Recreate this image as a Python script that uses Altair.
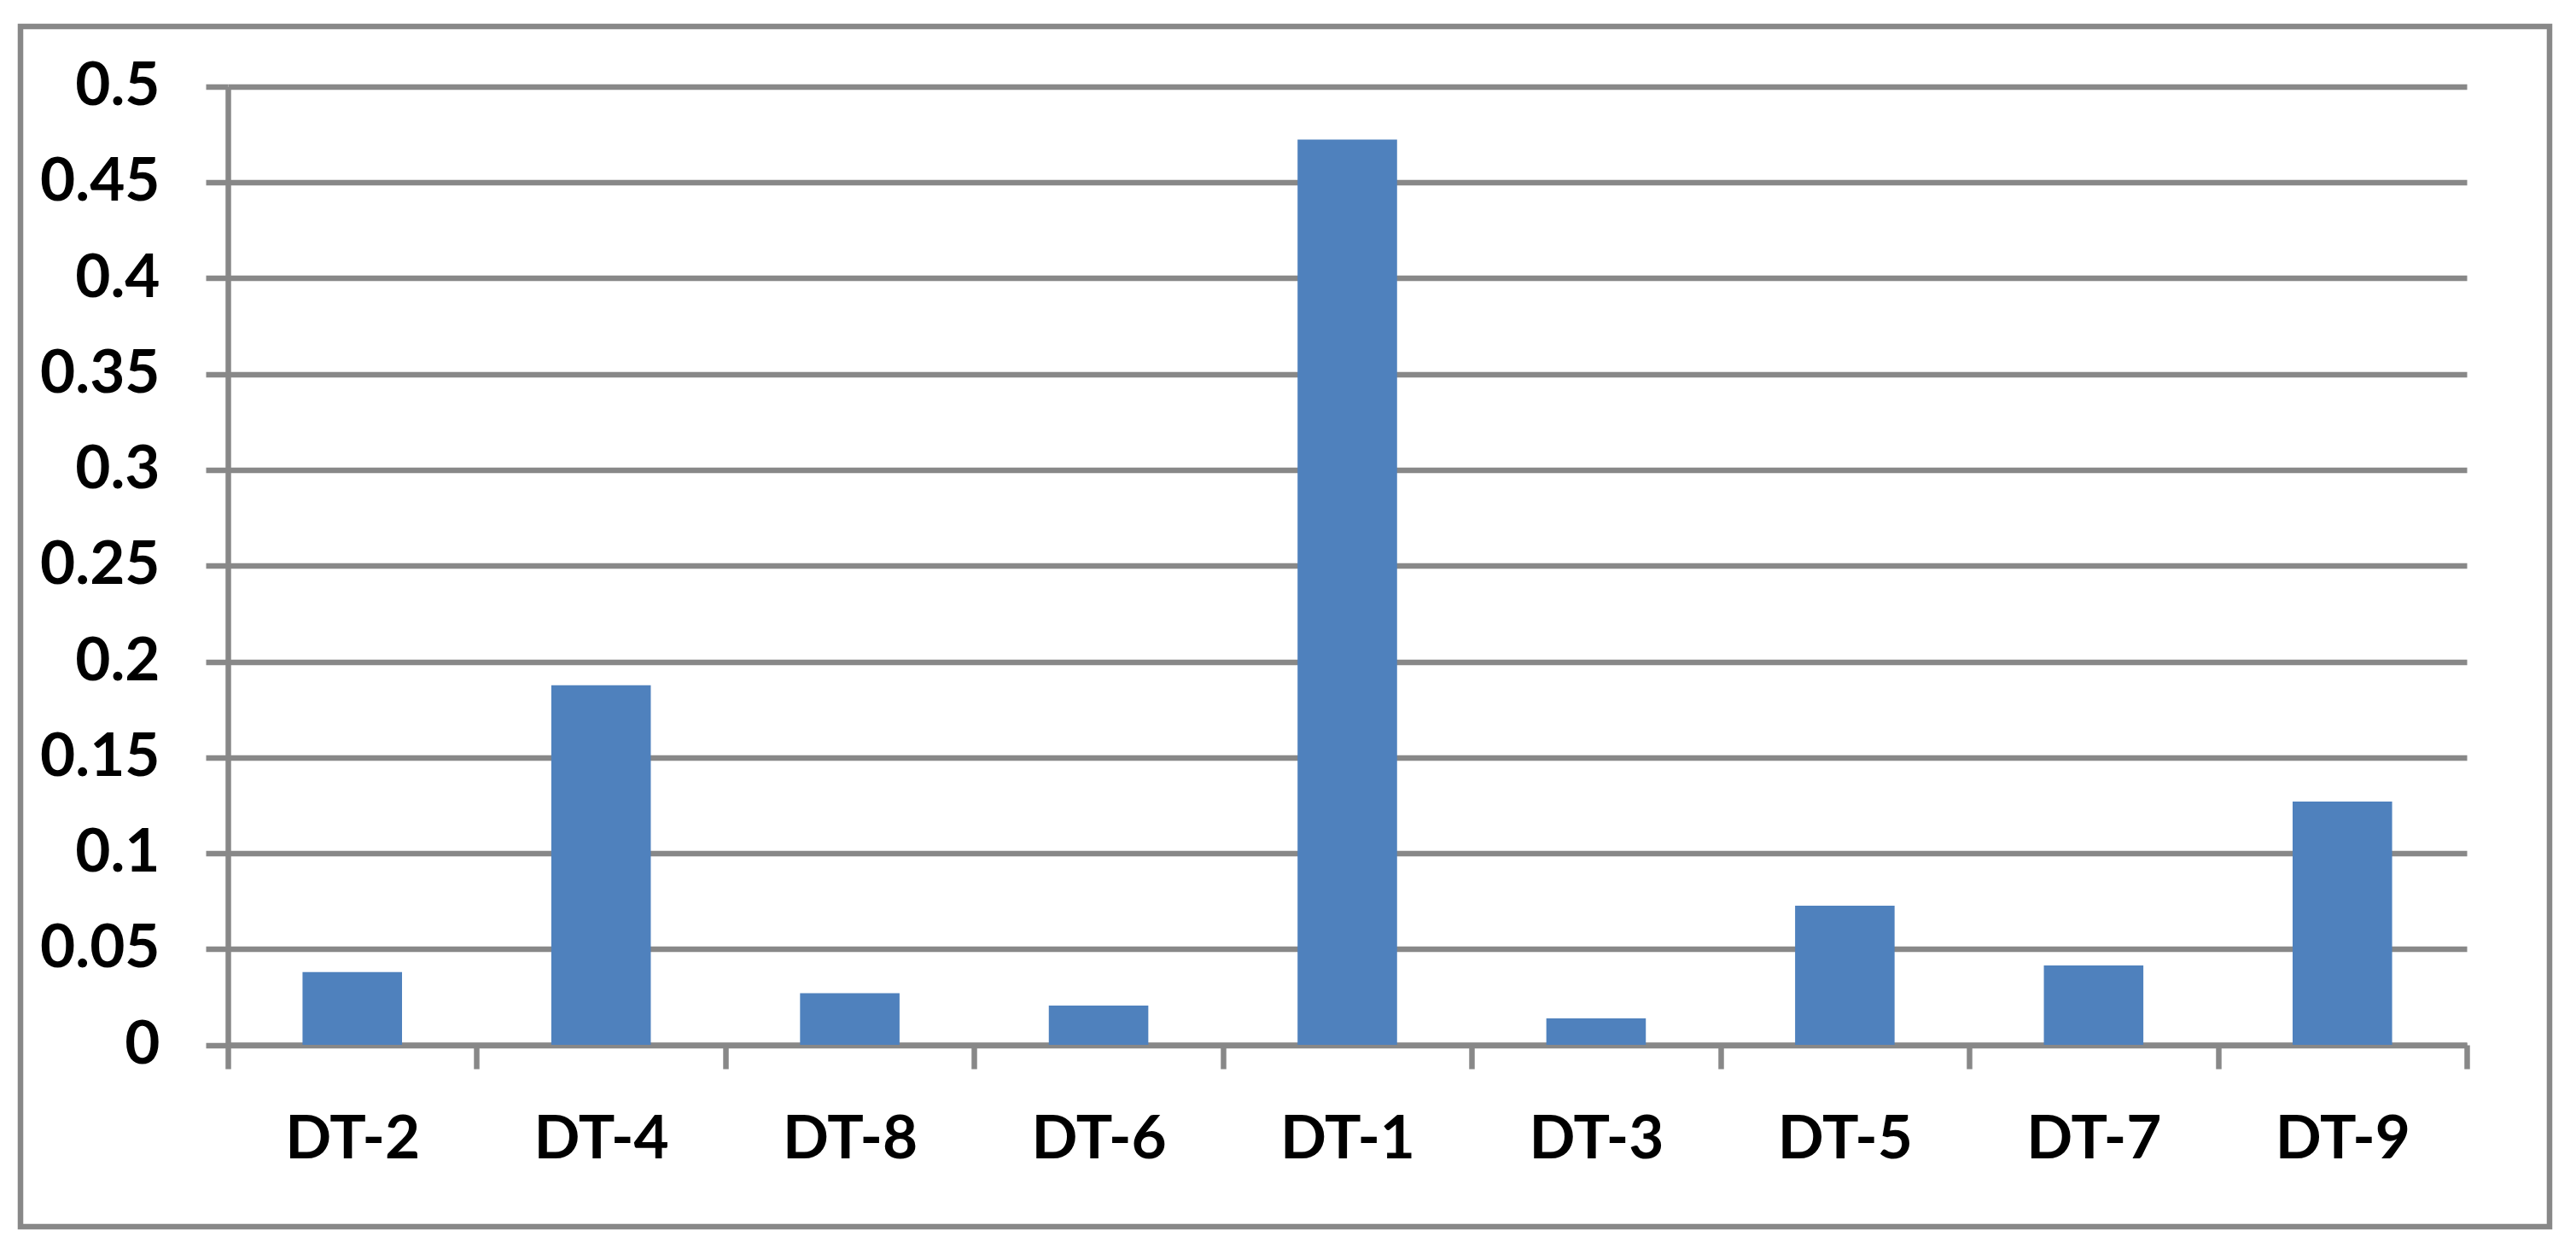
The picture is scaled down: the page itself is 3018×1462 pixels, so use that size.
import altair as alt
import pandas as pd

categories = ["DT-2", "DT-4", "DT-8", "DT-6", "DT-1", "DT-3", "DT-5", "DT-7", "DT-9"]
values = [0.038, 0.1876, 0.027, 0.0205, 0.4724, 0.0138, 0.0726, 0.0414, 0.127]
y_ticks = [0, 0.05, 0.1, 0.15, 0.2, 0.25, 0.3, 0.35, 0.4, 0.45, 0.5]

df = pd.DataFrame({"cat": categories, "val": values})

GRAY = "#888888"
FONT = "Lato"

bars = alt.Chart(df).mark_bar(
    width=alt.RelativeBandSize(0.4), color="#4F81BD"
).encode(
    x=alt.X(
        "cat:N",
        sort=categories,
        scale=alt.Scale(paddingInner=0, paddingOuter=0),
        axis=alt.Axis(
            title="",
            labelAngle=0,
            tickBand="extent",
            tickSize=28,
            labelPadding=48,
            labelFont=FONT,
            labelFontSize=71,
            labelFontWeight="bold",
            labelColor="#000000",
            grid=False,
        ),
    ),
    y=alt.Y(
        "val:Q",
        scale=alt.Scale(domain=[0, 0.5], nice=False),
        axis=alt.Axis(
            title="",
            values=y_ticks,
            format="~g",
            tickSize=26,
            labelPadding=54,
            labelFont=FONT,
            labelFontSize=71,
            labelFontWeight="bold",
            labelColor="#000000",
            grid=True,
        ),
    ),
)

frame = alt.Chart(pd.DataFrame({"k": [0]})).mark_rect(
    fill="transparent", stroke=GRAY, strokeWidth=6.5
).encode(
    x=alt.value(-243),
    x2=alt.value(2720),
    y=alt.value(-70.5),
    y2=alt.value(1335.5),
)

chart = alt.layer(frame, bars).properties(
    width=2623,
    height=1122.5,
    autosize=alt.AutoSizeParams(type="none"),
    padding={"left": 259, "top": 93.5, "right": 120, "bottom": 220},
    background="#ffffff",
).configure_axis(
    domainColor=GRAY,
    domainWidth=6.5,
    tickColor=GRAY,
    tickWidth=6.5,
    gridColor=GRAY,
    gridWidth=6.5,
    gridOpacity=1,
    domainOpacity=1,
    tickOpacity=1,
).configure_view(stroke="transparent")

chart.save("out.html", embed_options={"renderer": "svg", "actions": False})
